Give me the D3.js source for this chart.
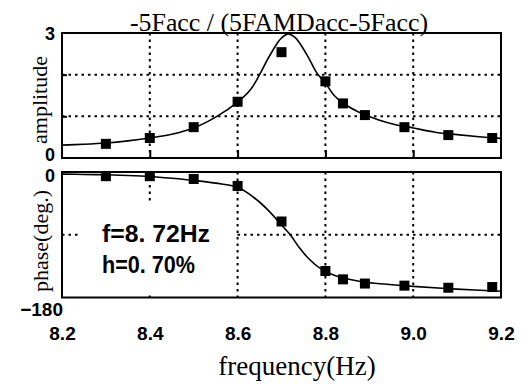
<!DOCTYPE html>
<html>
<head>
<meta charset="utf-8">
<script src="https://cdn.jsdelivr.net/npm/d3@7"></script>
<style>
  body { margin: 0; background: #fff; }
  svg { display: block; }
</style>
</head>
<body>
<svg id="drawing_region"></svg>
<script>
// measured points
const freq = [8.30, 8.40, 8.50, 8.60, 8.70, 8.80, 8.84, 8.89, 8.98, 9.08, 9.18];
const amplitude = [0.34, 0.48, 0.74, 1.35, 2.54, 1.84, 1.31, 1.03, 0.74, 0.55, 0.48];
const phase = [-6, -6, -10, -20, -71, -142, -154, -160, -163, -166, -165];

// fitted curve
const fitFreq = [8.20, 8.25, 8.30, 8.35, 8.40, 8.45, 8.50, 8.55, 8.60, 8.63, 8.65, 8.67, 8.69, 8.70,
                 8.715, 8.73, 8.74, 8.76, 8.78, 8.80, 8.82, 8.84, 8.88, 8.92, 8.96, 9.00, 9.05, 9.10, 9.15, 9.20];
const fitAmp = [0.31, 0.33, 0.36, 0.41, 0.48, 0.57, 0.72, 0.98, 1.34, 1.65, 2.00, 2.40, 2.75, 2.88,
                2.98, 2.90, 2.78, 2.44, 2.05, 1.80, 1.50, 1.32, 1.08, 0.92, 0.80, 0.72, 0.62, 0.56, 0.51, 0.47];
const fitPhaseFreq = [8.20, 8.25, 8.30, 8.35, 8.40, 8.45, 8.50, 8.55, 8.60, 8.64, 8.67, 8.70, 8.72,
                      8.74, 8.76, 8.79, 8.82, 8.88, 8.94, 9.00, 9.10, 9.20];
const fitPhase = [-3, -3.5, -4, -5, -6.5, -9, -12, -16, -22, -38, -55, -76, -90,
                  -108, -123, -139, -148, -157, -161, -164, -168, -171];

const xTicks = [8.2, 8.4, 8.6, 8.8, 9.0, 9.2];
const gridX = [8.4, 8.6, 8.8, 9.0];
const gridAmp = [1, 2];
const gridPhase = [-90];

const title = '-5Facc / (5FAMDacc-5Facc)';
const noteLines = ['f=8. 72Hz', 'h=0. 70%'];

const W = 525, H = 384;
const left = 62, right = 501;
const topA = 33, botA = 158;
const topP = 172, botP = 297.5;

const svg = d3.select('#drawing_region').attr('width', W).attr('height', H);

const x = d3.scaleLinear().domain([8.2, 9.2]).range([left, right]);
const yA = d3.scaleLinear().domain([0, 3]).range([botA, topA]);
const yP = d3.scaleLinear().domain([-180, 0]).range([botP, topP]);

const serif = '"Liberation Serif", "Times New Roman", serif';
const sans = '"Liberation Sans", Arial, sans-serif';

function grid(yScale, yTop, yBot, hVals) {
    const g = svg.append('g');
    g.selectAll('line.v')
        .data(gridX)
        .join('line')
        .attr('x1', d => x(d)).attr('x2', d => x(d))
        .attr('y1', yTop).attr('y2', yBot);
    g.selectAll('line.h')
        .data(hVals)
        .join('line')
        .attr('x1', left).attr('x2', right)
        .attr('y1', d => yScale(d)).attr('y2', d => yScale(d));
    g.selectAll('line')
        .attr('stroke', '#000')
        .attr('stroke-width', 2)
        .attr('stroke-dasharray', '2.5,4');
    return g;
}

grid(yA, topA, botA, gridAmp);
grid(yP, topP, botP, gridPhase);

// small solid ticks
svg.append('g')
    .attr('transform', `translate(0,${botA})`)
    .call(d3.axisBottom(x).tickValues(gridX).tickSize(-8).tickFormat(''))
    .call(g => g.select('.domain').remove())
    .selectAll('line').attr('stroke-width', 2);
svg.append('g')
    .attr('transform', `translate(${left},0)`)
    .call(d3.axisLeft(yA).tickValues(gridAmp).tickSize(-5).tickFormat(''))
    .call(g => g.select('.domain').remove())
    .selectAll('line').attr('stroke-width', 2);

// white box behind the note
svg.append('rect')
    .attr('x', 80).attr('y', 203)
    .attr('width', 155).attr('height', 89)
    .attr('fill', '#fff');

// frames
[[topA, botA], [topP, botP]].forEach(([t, b]) => {
    svg.append('rect')
        .attr('x', left).attr('y', t)
        .attr('width', right - left).attr('height', b - t)
        .attr('fill', 'none')
        .attr('stroke', '#000')
        .attr('stroke-width', 2);
});

// curves
const lineA = d3.line().x(d => x(d[0])).y(d => yA(d[1])).curve(d3.curveCatmullRom);
const lineP = d3.line().x(d => x(d[0])).y(d => yP(d[1])).curve(d3.curveCatmullRom);

svg.append('path')
    .datum(d3.zip(fitFreq, fitAmp))
    .attr('d', lineA)
    .attr('fill', 'none').attr('stroke', '#000').attr('stroke-width', 1.6);
svg.append('path')
    .datum(d3.zip(fitPhaseFreq, fitPhase))
    .attr('d', lineP)
    .attr('fill', 'none').attr('stroke', '#000').attr('stroke-width', 1.6);

// markers
const ms = 10;
svg.append('g').selectAll('rect')
    .data(d3.zip(freq, amplitude))
    .join('rect')
    .attr('x', d => x(d[0]) - ms / 2).attr('y', d => yA(d[1]) - ms / 2)
    .attr('width', ms).attr('height', ms).attr('fill', '#000');
svg.append('g').selectAll('rect')
    .data(d3.zip(freq, phase))
    .join('rect')
    .attr('x', d => x(d[0]) - ms / 2).attr('y', d => yP(d[1]) - ms / 2)
    .attr('width', ms).attr('height', ms).attr('fill', '#000');

// x tick labels
svg.append('g')
    .attr('transform', `translate(0,${botP})`)
    .call(d3.axisBottom(x).tickValues(xTicks).tickSize(0).tickPadding(29).tickFormat(d3.format('.1f')))
    .call(g => g.select('.domain').remove())
    .selectAll('text')
    .attr('font-family', sans).attr('font-weight', 'bold').attr('font-size', 19)
    .attr('fill', '#000');

// y tick labels
const yLab = svg.append('g')
    .attr('font-family', sans).attr('font-weight', 'bold').attr('font-size', 18)
    .attr('text-anchor', 'middle').attr('dominant-baseline', 'central');
yLab.append('text').attr('x', 50).attr('y', yA(3) + 1).text('3');
yLab.append('text').attr('x', 50).attr('y', yA(0) - 3).text('0');
yLab.append('text').attr('x', 50).attr('y', yP(0) + 4).text('0');
yLab.append('text').attr('x', 63).attr('y', yP(-180) + 12)
    .attr('text-anchor', 'end').attr('font-size', 19).text('\u2212180');

// axis titles
svg.append('text')
    .attr('transform', 'translate(47,100) rotate(-90)')
    .attr('text-anchor', 'middle')
    .attr('font-family', serif).attr('font-size', 22)
    .text('amplitude');
svg.append('text')
    .attr('transform', 'translate(48,241) rotate(-90)')
    .attr('text-anchor', 'middle')
    .attr('font-family', serif).attr('font-size', 22)
    .text('phase(deg.)');
svg.append('text')
    .attr('x', 297).attr('y', 375)
    .attr('text-anchor', 'middle')
    .attr('font-family', serif).attr('font-size', 27)
    .text('frequency(Hz)');

// title
svg.append('text')
    .attr('x', 279).attr('y', 31)
    .attr('text-anchor', 'middle')
    .attr('font-family', serif).attr('font-size', 26)
    .attr('textLength', 298)
    .attr('lengthAdjust', 'spacingAndGlyphs')
    .text(title);

// note
svg.append('g').selectAll('text')
    .data(noteLines)
    .join('text')
    .attr('x', 102)
    .attr('y', (d, i) => 242 + i * 31)
    .attr('font-family', sans).attr('font-size', 24).attr('font-weight', 'bold')
    .attr('textLength', (d, i) => i === 0 ? 108 : 93)
    .attr('lengthAdjust', 'spacingAndGlyphs')
    .text(d => d);
</script>
</body>
</html>
